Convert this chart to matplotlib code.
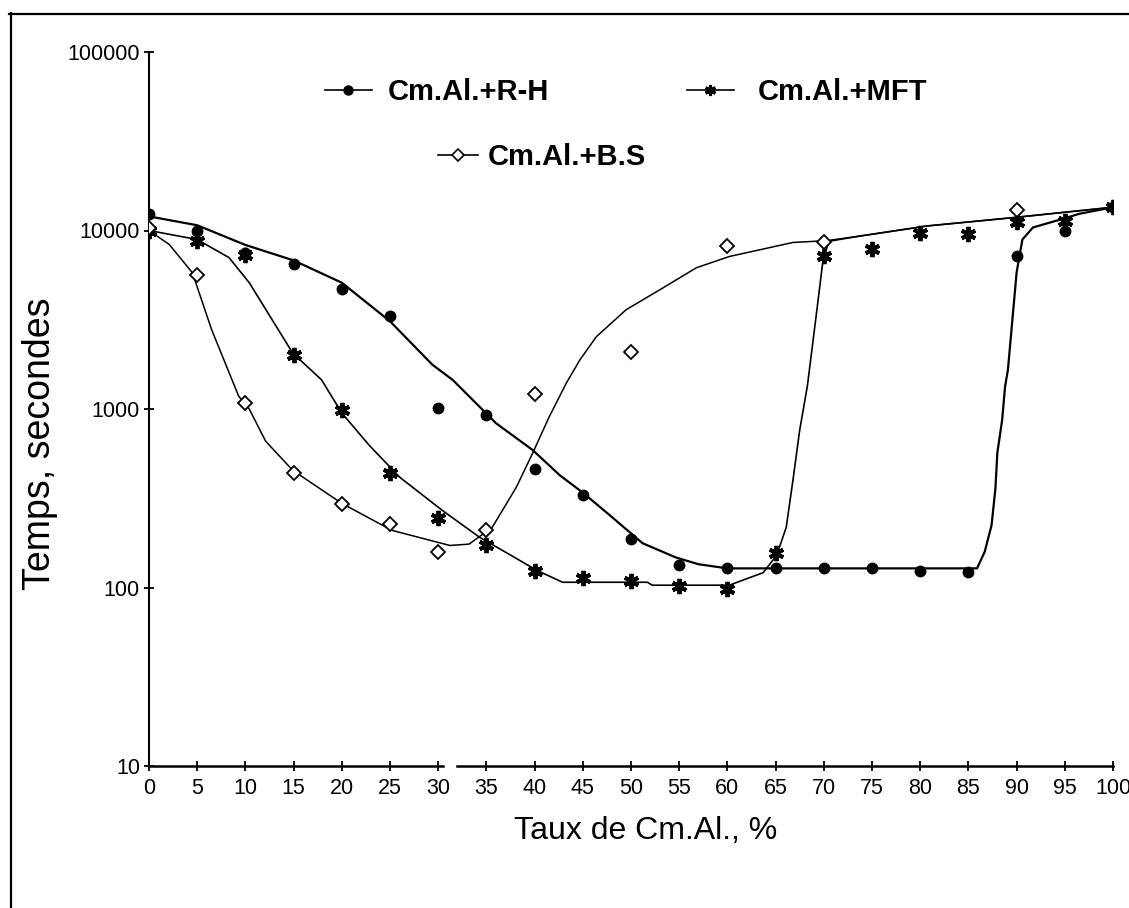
import numpy as np
import matplotlib
matplotlib.use("Agg")
import matplotlib.pyplot as plt
from matplotlib import font_manager
from matplotlib.lines import Line2D
from matplotlib.legend_handler import HandlerLine2D
from matplotlib.ticker import NullLocator

# measured points (Taux de Cm.Al. in %, time in seconds)
x_pts = list(range(0, 101, 5))
rh_time = [12300, 10000, 7500, 6450, 4700, 3300, 1010, 925, 460, 330, 186,
           133, 128, 128, 128, 128, 124, 122, 7240, 10000, 13500]
mft_time = [10000, 8700, 7300, 2010, 990, 437, 244, 172, 123, 113, 109,
            102, 98, 157, 7200, 7900, 9700, 9500, 11100, 11300, 13500]
bs_x = [0, 5, 10, 15, 20, 25, 30, 35, 40, 50, 60, 70, 90]
bs_time = [10300, 5660, 1080, 437, 292, 228, 159, 209, 1215, 2090, 8240, 8670, 12950]

# trend curves
rh_fit_x = [0, 5, 10, 15, 20, 25, 29.4, 31.5, 36, 39.8, 42.6, 45, 47.8, 51.2, 54.7,
            57, 60, 85.9, 86.7, 87.4, 87.8, 88.0, 88.5, 88.8, 89.1, 90, 90.6, 91.7,
            94.5, 96.5, 100]
rh_fit_y = [12000, 10700, 8300, 6800, 5100, 3100, 1770, 1456, 832, 589, 426, 340, 254,
            177, 147, 135, 128, 128, 159, 223, 357, 566, 868, 1330, 1660, 5810, 8900,
            10400, 11500, 12400, 13500]
mft_fit_x = [0, 5, 8.3, 10.4, 14.9, 17.9, 20, 22.8, 26, 30.4, 34.3, 36.7, 40.2, 42.9,
             51.7, 52.2, 60.2, 62, 63.7, 65.1, 66.1, 66.8, 67.5, 68.3, 69.3, 69.9, 70.5,
             73.7, 80.7, 89.6, 100]
mft_fit_y = [10000, 8900, 7050, 5100, 2060, 1456, 950, 630, 415, 271, 191, 161, 125, 107,
             107, 103, 103, 112, 121, 151, 217, 399, 762, 1350, 3650, 6700, 8700,
             9300, 10600, 11800, 13500]
bs_fit_x = [0, 2.1, 4.5, 6.5, 9.3, 10.4, 12.1, 14.9, 20, 25.2, 31.2, 33.2, 35.6, 38.1,
            39.8, 41.5, 43.3, 44.7, 46.4, 49.5, 53, 56.8, 60.2, 66.8, 70.3, 73.7, 80.7,
            89.6, 100]
bs_fit_y = [10000, 8350, 5800, 2780, 1180, 1000, 660, 454, 296, 209, 172, 175, 217, 364,
            566, 900, 1400, 1885, 2540, 3600, 4660, 6190, 7150, 8570, 8770, 9300, 10600,
            11800, 13500]

plt.rcParams["font.family"] = ["Liberation Sans", "DejaVu Sans"]

# narrow digits on the ticks if the narrow face is there
installed = {f.name for f in font_manager.fontManager.ttflist}
if "Liberation Sans Narrow" in installed:
    tick_font = dict(family="Liberation Sans Narrow", size=18.5)
else:
    tick_font = dict(family="Liberation Sans", size=15.5)

W, H = 1129, 908
fig = plt.figure(figsize=(W / 100, H / 100), dpi=100)
ax = fig.add_axes([149 / W, 1 - 766 / H, 964 / W, 714 / H])

ax.plot(rh_fit_x, rh_fit_y, color="black", lw=1.6, zorder=2)
ax.plot(mft_fit_x, mft_fit_y, color="black", lw=1.2, zorder=2)
ax.plot(bs_fit_x, bs_fit_y, color="black", lw=1.1, zorder=2)

ax.plot(x_pts, rh_time, ls="none", marker="o", ms=7.5, color="black", zorder=3)
ax.plot(x_pts, mft_time, ls="none", marker=(6, 2, 0), ms=11, mew=2.8, color="black", zorder=3)
ax.plot(bs_x, bs_time, ls="none", marker="D", ms=7, mew=1.3, mfc="white", mec="black", zorder=4)

ax.set_yscale("log")
ax.set_xlim(0, 100)
ax.set_ylim(10, 100000)
ax.set_xticks(range(0, 101, 5))
ax.set_yticks([10, 100, 1000, 10000, 100000])
ax.set_yticklabels(["10", "100", "1000", "10000", "100000"])
ax.yaxis.set_minor_locator(NullLocator())

for s in ["top", "right", "bottom"]:
    ax.spines[s].set_visible(False)
ax.spines["left"].set_linewidth(1.5)
# x axis drawn in two pieces (break after 30)
xt = ax.get_xaxis_transform()
ax.plot([0, 30.5], [0, 0], color="black", lw=1.8, transform=xt, clip_on=False)
ax.plot([32, 100], [0, 0], color="black", lw=1.8, transform=xt, clip_on=False)

ax.tick_params(direction="inout", length=7, width=1.3, color="black")
ax.tick_params(axis="x", pad=5)
ax.tick_params(axis="y", pad=3)
for lbl in ax.get_xticklabels() + ax.get_yticklabels():
    lbl.set_fontfamily(tick_font["family"])
    lbl.set_fontsize(tick_font["size"])

ax.set_ylabel("Temps, secondes", fontsize=27)
ax.yaxis.set_label_coords(-0.0944, 0.452)
ax.set_xlabel("Taux de Cm.Al., %", fontsize=23)
ax.xaxis.set_label_coords(0.515, -0.07)


class EndMarkerHandler(HandlerLine2D):
    # marker at the right end of the legend line
    def get_xdata(self, legend, xdescent, ydescent, width, height, fontsize):
        xdata = np.array([-xdescent, -xdescent + width])
        return xdata, xdata[-1:]


leg_font = dict(family="Liberation Sans", weight="bold", size=21)
entries = [
    ("Cm.Al.+R-H", dict(marker="o", ms=6.5), 325, 92, 1.61, 0.55),
    ("Cm.Al.+MFT", dict(marker=(6, 2, 0), ms=8, mew=2.2), 687, 92, 1.61, 0.8),
    ("Cm.Al.+B.S", dict(marker="D", ms=6, mew=1.2, mfc="white"), 438, 157, 1.37, 0.35),
]
for label, mk, px, py, hl, tp in entries:
    h = Line2D([], [], color="black", lw=1.2, **mk)
    fig.legend([h], [label], loc="center left", bbox_to_anchor=(px / W, 1 - py / H),
               frameon=False, prop=leg_font, handlelength=hl, handletextpad=tp,
               borderpad=0, borderaxespad=0, handler_map={h: EndMarkerHandler()})

# scanned page frame
fig.add_artist(Line2D([9 / W, 1], [1 - 14 / H] * 2, transform=fig.transFigure, color="black", lw=1.6))
fig.add_artist(Line2D([11 / W] * 2, [1 - 13 / H, 0], transform=fig.transFigure, color="black", lw=1.6))

fig.savefig("out.png", dpi=100)
